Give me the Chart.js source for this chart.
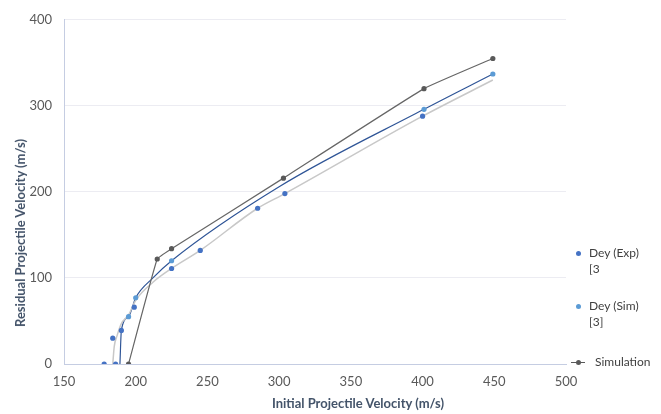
<!DOCTYPE html>
<html>
<head>
<meta charset="utf-8">
<script src="https://cdn.jsdelivr.net/npm/chart.js@4/dist/chart.umd.min.js"></script>
<style>
  body { margin: 0; background: #fff; }
  #wrap { position: relative; width: 661px; height: 414px; }
  .leg { position: absolute; font-family: Lato, sans-serif; font-size: 12px; color: #404040; line-height: 16px; }
  .dot { position: absolute; width: 5px; height: 5px; border-radius: 50%; }
  .ttl { position: absolute; font-family: Lato, sans-serif; font-size: 13px; font-weight: bold; color: #44546A; white-space: nowrap; }
</style>
</head>
<body>
<div id="wrap">
  <canvas id="myChart" width="661" height="414"></canvas>
  <div class="ttl" style="left:358px;top:395px;transform:translateX(-50%)">Initial Projectile Velocity (m/s)</div>
  <div class="ttl" style="left:20px;top:233px;transform:translate(-50%,-50%) rotate(-90deg)">Residual Projectile Velocity (m/s)</div>
  <div class="dot" style="left:576px;top:251px;background:#4472C4"></div>
  <div class="leg" style="left:589px;top:245px">Dey (Exp)<br>[3</div>
  <div class="dot" style="left:576px;top:304px;background:#5B9BD5"></div>
  <div class="leg" style="left:589px;top:298px">Dey (Sim)<br>[3]</div>
  <div style="position:absolute;left:571px;top:362px;width:14px;height:1px;background:#595959"></div>
  <div class="dot" style="left:576px;top:360px;background:#595959"></div>
  <div class="leg" style="left:595px;top:354px">Simulation</div>
</div>
<script>
// Dey (Exp) [3] measured points
const expX = [178, 186, 184, 190, 199, 225, 245, 285, 304, 400];
const expY = [0, 0, 30, 39, 66, 111, 132, 181, 198, 288];
// Dey (Sim) [3]
const simX = [195, 200, 225, 401, 449];
const simY = [55, 77, 120, 296, 337];
// Simulation
const simuX = [195, 215, 225, 303, 401, 449];
const simuY = [0, 122, 134, 216, 320, 355];
// fitted curves
const expFitX = [184, 185, 187, 190, 195, 200, 212, 225, 245, 285, 304, 400, 449];
const expFitY = [0, 20, 33, 47, 57, 74, 95, 111, 132, 181, 198, 288, 330];
const simFitX = [189, 190, 195, 200, 212, 225, 300, 401, 449];
const simFitY = [0, 39, 55, 77, 100, 120, 206, 296, 337];

const xTicks = [150, 200, 250, 300, 350, 400, 450, 500];
const yTicks = [0, 100, 200, 300, 400];

const pts = (xs, ys) => xs.map((x, i) => ({ x: x, y: ys[i] }));

const ctx = document.getElementById('myChart').getContext('2d');

new Chart(ctx, {
    type: 'scatter',
    data: {
        datasets: [{
            label: 'Dey (Exp) [3',
            data: pts(expX, expY),
            backgroundColor: '#4472C4',
            borderWidth: 0,
            pointRadius: 2.6,
            showLine: false
        },
        {
            label: 'Dey (Sim) [3]',
            data: pts(simX, simY),
            backgroundColor: '#5B9BD5',
            borderWidth: 0,
            pointRadius: 2.6,
            showLine: false
        },
        {
            label: 'Simulation',
            data: pts(simuX, simuY),
            backgroundColor: '#595959',
            borderColor: '#666666',
            borderWidth: 1.2,
            pointBorderWidth: 0,
            pointRadius: 2.6,
            showLine: true,
            tension: 0.1
        },
        {
            label: 'exp fit',
            data: pts(expFitX, expFitY),
            borderColor: '#C8C8C8',
            borderWidth: 1.5,
            pointRadius: 0,
            showLine: true,
            cubicInterpolationMode: 'monotone'
        },
        {
            label: 'sim fit',
            data: pts(simFitX, simFitY),
            borderColor: '#2F5597',
            borderWidth: 1.2,
            pointRadius: 0,
            showLine: true,
            cubicInterpolationMode: 'monotone'
        }]
    },
    options: {
        responsive: false,
        animation: false,
        layout: { padding: { top: 8, right: 95, left: 0, bottom: 0 } },
        plugins: {
            legend: { display: false },
            tooltip: { enabled: false }
        },
        scales: {
            x: {
                type: 'linear',
                min: 150,
                max: 500,
                afterBuildTicks: (axis) => { axis.ticks = xTicks.map(v => ({ value: v })); },
                afterFit: (axis) => { axis.height = 50; },
                grid: { display: false, drawTicks: false },
                border: { color: '#C5CDE2', width: 1 },
                ticks: { color: '#595959', font: { family: 'Lato', size: 13 }, padding: 10 }
            },
            y: {
                min: 0,
                max: 400,
                afterBuildTicks: (axis) => { axis.ticks = yTicks.map(v => ({ value: v })); },
                afterFit: (axis) => { axis.width = 64; },
                grid: { color: '#ECECF2', drawTicks: false },
                border: { color: '#C5CDE2', width: 1 },
                ticks: { color: '#595959', font: { family: 'Lato', size: 13 }, padding: 12 }
            }
        }
    }
});
</script>
</body>
</html>
